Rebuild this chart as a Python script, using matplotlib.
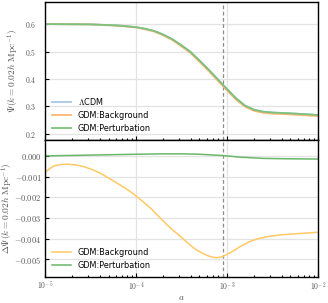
import numpy as np
import matplotlib.pyplot as plt
from matplotlib.ticker import LogLocator, NullFormatter

# log10(a) grid for the top panel
loga_top = [-5.0, -4.5, -4.2, -4.0, -3.9, -3.8, -3.7, -3.6, -3.5, -3.4, -3.3, -3.2,
            -3.1, -3.0, -2.9, -2.8, -2.7, -2.6, -2.5, -2.3, -2.0]
psi_lcdm = [0.600, 0.599, 0.595, 0.589, 0.583, 0.575, 0.562, 0.545, 0.523, 0.499, 0.467,
            0.434, 0.399, 0.364, 0.330, 0.303, 0.288, 0.281, 0.278, 0.275, 0.269]
psi_bg = [0.600, 0.599, 0.594, 0.588, 0.581, 0.573, 0.559, 0.542, 0.519, 0.495, 0.462,
          0.429, 0.394, 0.359, 0.325, 0.299, 0.284, 0.277, 0.274, 0.271, 0.265]
psi_pert = [0.600, 0.599, 0.595, 0.589, 0.583, 0.575, 0.562, 0.545, 0.523, 0.499, 0.467,
            0.434, 0.399, 0.364, 0.330, 0.303, 0.288, 0.281, 0.278, 0.275, 0.269]

# bottom panel: difference w.r.t. LCDM
loga_bg = [-5.0, -4.95, -4.9, -4.83, -4.755, -4.67, -4.571, -4.48, -4.388, -4.3, -4.205,
           -4.1, -4.011, -3.92, -3.838, -3.75, -3.656, -3.58, -3.516, -3.42, -3.333, -3.25,
           -3.2, -3.15, -3.1, -3.05, -2.95, -2.857, -2.75, -2.65, -2.55, -2.418, -2.2, -2.0]
dpsi_bg = [-0.00081, -0.00062, -0.00048, -0.00042, -0.00040, -0.00043, -0.00052, -0.00066,
           -0.00084, -0.00107, -0.00132, -0.00161, -0.00189, -0.00222, -0.00253, -0.00292,
           -0.00334, -0.00364, -0.00387, -0.00425, -0.00455, -0.00474, -0.00484, -0.00490,
           -0.00492, -0.00487, -0.00465, -0.00439, -0.00414, -0.00399, -0.00390, -0.00382,
           -0.00375, -0.00369]
loga_pert = [-5.0, -4.5, -4.0, -3.7, -3.5, -3.3, -3.05, -2.85, -2.6, -2.3, -2.0]
dpsi_pert = [0.0, 0.00004, 0.00008, 0.00010, 0.00010, 0.00008, 0.00002, -0.00006,
             -0.00012, -0.00014, -0.00015]

a_rec = 9.1e-4

plt.rcParams['mathtext.fontset'] = 'cm'
plt.rcParams['font.family'] = ['DejaVu Sans']

fig = plt.figure(figsize=(3.28, 3.03), dpi=100)
ax1 = fig.add_axes([0.137, 0.538, 0.832, 0.455])
ax2 = fig.add_axes([0.137, 0.086, 0.832, 0.452], sharex=ax1)

grey = '#555555'

for ax in (ax1, ax2):
    ax.set_xscale('log')
    ax.set_xlim(1e-5, 1e-2)
    ax.grid(True, which='major', color='#e3e3e3', lw=0.9)
    ax.set_axisbelow(True)
    ax.axvline(a_rec, color='#8c8c8c', ls='--', lw=0.9, dashes=(3, 2))
    ax.tick_params(which='both', direction='in', colors='black', labelcolor=grey,
                   labelsize=5.5, width=0.8)
    ax.tick_params(which='major', length=3)
    ax.tick_params(which='minor', length=1.8)
    ax.tick_params(axis='x', pad=2.5)
    ax.xaxis.set_minor_locator(LogLocator(base=10, subs=np.arange(2, 10), numticks=20))
    ax.xaxis.set_minor_formatter(NullFormatter())
    for s in ax.spines.values():
        s.set_color('black')
        s.set_linewidth(1.0)

ax1.plot(10 ** np.array(loga_top), psi_lcdm, color='#a6c8e6', lw=1.3, label=r'$\Lambda$CDM')
ax1.plot(10 ** np.array(loga_top), psi_bg, color='#ffb673', lw=1.3, label='GDM:Background')
ax1.plot(10 ** np.array(loga_top), psi_pert, color='#7cc27c', lw=1.3, label='GDM:Perturbation')
ax1.set_ylim(0.178, 0.68)
ax1.set_yticks([0.2, 0.3, 0.4, 0.5, 0.6])
ax1.set_yticklabels([r'$0.2$', r'$0.3$', r'$0.4$', r'$0.5$', r'$0.6$'])
ax1.tick_params(axis='y', pad=6)
ax1.tick_params(axis='x', labelbottom=False)
ax1.set_ylabel(r'$\Psi(k=0.02h\ {\rm Mpc}^{-1})$', fontsize=6.8, color=grey)
ax1.yaxis.set_label_coords(-0.088, 0.5)
ax1.legend(loc='lower left', frameon=False, fontsize=5.9, handlelength=2.3,
           labelspacing=0.45, borderaxespad=0.5)

ax2.plot(10 ** np.array(loga_bg), dpsi_bg, color='#ffc966', lw=1.1, label='GDM:Background')
ax2.plot(10 ** np.array(loga_pert), dpsi_pert, color='#6ab76a', lw=1.1, label='GDM:Perturbation')
ax2.set_ylim(-0.00585, 0.00077)
yt = [0.0, -0.001, -0.002, -0.003, -0.004, -0.005]
ax2.set_yticks(yt)
ax2.set_yticklabels([r'$%.3f$' % v if v == 0 else r'$-%.3f$' % abs(v) for v in yt])
ax2.tick_params(axis='y', pad=2.5, labelsize=6.0)
ax2.set_xticks([1e-5, 1e-4, 1e-3, 1e-2])
ax2.set_xticklabels([r'$10^{-5}$', r'$10^{-4}$', r'$10^{-3}$', r'$10^{-2}$'])
ax2.set_ylabel(r'$\Delta\Psi(k=0.02h\ {\rm Mpc}^{-1})$', fontsize=6.8, color=grey)
ax2.yaxis.set_label_coords(-0.108, 0.5)
ax2.set_xlabel(r'$a$', fontsize=6.8, color=grey, labelpad=0)
ax2.legend(loc='lower left', frameon=False, fontsize=5.9, handlelength=2.3,
           labelspacing=0.45, borderaxespad=0.5)

fig.savefig('out.png', dpi=100)
